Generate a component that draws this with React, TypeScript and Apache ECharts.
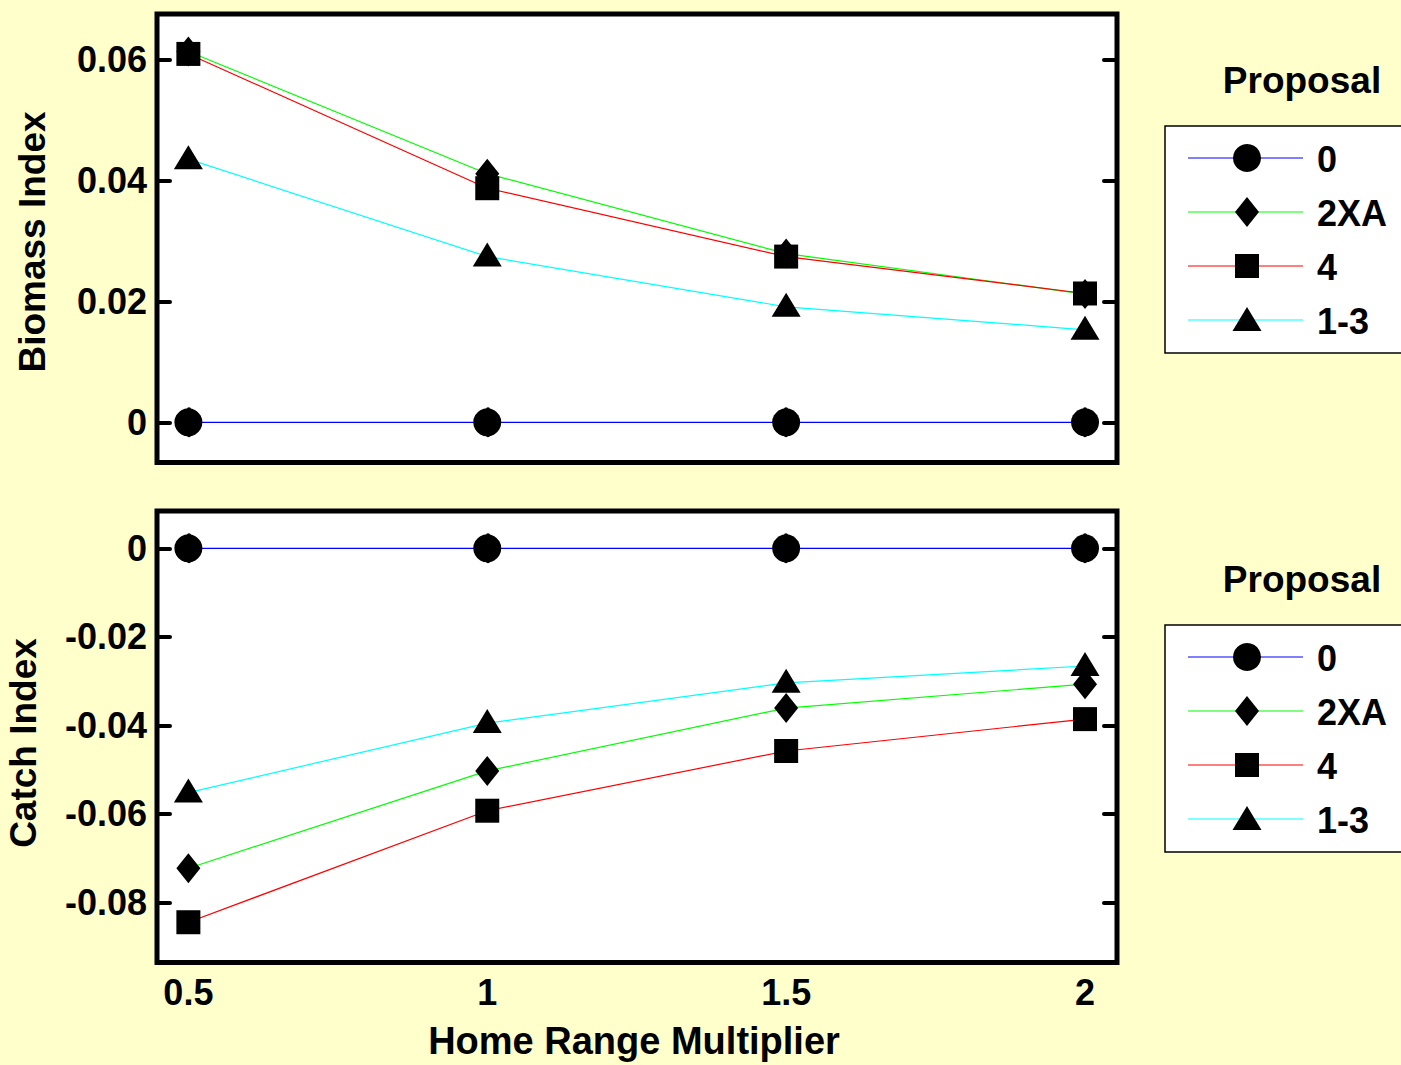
import React, { useEffect, useRef } from "react";
import * as echarts from "echarts";

const xValues = [0.5, 1, 1.5, 2];
const seriesNames = ["0", "2XA", "4", "1-3"];
const lineColors = ["#0000ff", "#00ff00", "#ff0000", "#00ffff"];

const biomass0 = [0, 0, 0, 0];
const biomass2XA = [0.0613, 0.0411, 0.0279, 0.0212];
const biomass4 = [0.0609, 0.0387, 0.0274, 0.0213];
const biomass13 = [0.0435, 0.0274, 0.0191, 0.0153];

const catch0 = [0, 0, 0, 0];
const catch2XA = [-0.0723, -0.0503, -0.0361, -0.0307];
const catch4 = [-0.0845, -0.0593, -0.0458, -0.0386];
const catch13 = [-0.0552, -0.0395, -0.0304, -0.0266];

const xTickValues = [0.5, 1, 1.5, 2];
const xTickLabels = ["0.5", "1", "1.5", "2"];
const biomassTickValues = [0, 0.02, 0.04, 0.06];
const biomassTickLabels = ["0", "0.02", "0.04", "0.06"];
const catchTickValues = [-0.08, -0.06, -0.04, -0.02, 0];
const catchTickLabels = ["-0.08", "-0.06", "-0.04", "-0.02", "0"];

const xTitle = "Home Range Multiplier";
const topTitle = "Biomass Index";
const bottomTitle = "Catch Index";
const legendTitle = "Proposal";

const FONT = "'Liberation Sans', Arial, sans-serif";

const symbols: any[] = [
  { symbol: "circle", size: 28, offset: [0, 0] },
  { symbol: "diamond", size: [24, 30], offset: [0, 0] },
  { symbol: "rect", size: 24, offset: [0, 0] },
  { symbol: "triangle", size: [29, 24], offset: [0, -2] },
];

function labelFor(values: number[], labels: string[]) {
  return (v: number) => {
    let best = 0;
    for (let i = 1; i < values.length; i++) {
      if (Math.abs(values[i] - v) < Math.abs(values[best] - v)) best = i;
    }
    return labels[best];
  };
}

const tickStyle = { show: true, inside: true, length: 13, lineStyle: { color: "#000", width: 4, cap: "round" } };

function txt(text: string, x: number, y: number, size: number, align: string, rotation = 0) {
  return {
    type: "text",
    x,
    y,
    rotation,
    style: {
      text,
      x: 0,
      y: 0,
      fill: "#000",
      font: `bold ${size}px ${FONT}`,
      align,
      verticalAlign: "middle",
      textAlign: align,
      textVerticalAlign: "middle",
    },
  };
}

function legendGraphics(dy: number) {
  const els: any[] = [];
  els.push(txt(legendTitle, 1302, 80 + dy, 37, "center"));
  els.push({
    type: "rect",
    shape: { x: 1165, y: 126 + dy, width: 260, height: 227 },
    style: { fill: "#fff", stroke: "#000", lineWidth: 1.5 },
  });
  const rows = [158, 212, 266, 320];
  seriesNames.forEach((name, i) => {
    const y = rows[i] + dy;
    const cx = 1247;
    els.push({
      type: "line",
      shape: { x1: 1188, y1: y, x2: 1303, y2: y },
      style: { stroke: lineColors[i], lineWidth: 1.2 },
    });
    if (i === 0) {
      els.push({ type: "circle", shape: { cx, cy: y, r: 14 }, style: { fill: "#000" } });
    } else if (i === 1) {
      els.push({
        type: "polygon",
        shape: { points: [[cx, y - 15], [cx + 12, y], [cx, y + 15], [cx - 12, y]] },
        style: { fill: "#000" },
      });
    } else if (i === 2) {
      els.push({ type: "rect", shape: { x: cx - 12, y: y - 12, width: 24, height: 24 }, style: { fill: "#000" } });
    } else {
      els.push({
        type: "polygon",
        shape: { points: [[cx, y - 13], [cx + 14.5, y + 11], [cx - 14.5, y + 11]] },
        style: { fill: "#000" },
      });
    }
    els.push(txt(name, 1317, y + 1, 36, "left"));
  });
  return els;
}

export default function App() {
  const ref = useRef<HTMLDivElement>(null);
  useEffect(() => {
    document.body.style.margin = "0";
    document.body.style.background = "#ffffcc";
    const chart = echarts.init(ref.current!, null, { renderer: "svg" });
    const topData = [biomass0, biomass2XA, biomass4, biomass13];
    const botData = [catch0, catch2XA, catch4, catch13];

    const series: any[] = [];
    [topData, botData].forEach((group, gi) => {
      group.forEach((vals, si) => {
        const data = xValues.map((x, k) => [x, vals[k]]);
        series.push({
          type: "line",
          name: seriesNames[si],
          xAxisIndex: gi * 2,
          yAxisIndex: gi * 2,
          data,
          symbol: "none",
          showSymbol: false,
          lineStyle: { color: lineColors[si], width: 1.2 },
          z: 2,
          silent: true,
        });
      });
      group.forEach((vals, si) => {
        const data = xValues.map((x, k) => [x, vals[k]]);
        series.push({
          type: "scatter",
          name: seriesNames[si],
          xAxisIndex: gi * 2,
          yAxisIndex: gi * 2,
          data,
          symbol: symbols[si].symbol,
          symbolSize: symbols[si].size,
          symbolOffset: symbols[si].offset,
          itemStyle: { color: "#000", opacity: 1, borderWidth: 0 },
          z: 3,
          silent: true,
        });
      });
    });

    const xAxisBase = (gridIndex: number, position: string, showLabels: boolean) => ({
      type: "value",
      gridIndex,
      position,
      min: 0.4475,
      max: 2.0535,
      axisLine: { show: false },
      splitLine: { show: false },
      axisTick: { ...tickStyle, customValues: xTickValues },
      axisLabel: {
        show: showLabels,
        customValues: xTickValues,
        formatter: labelFor(xTickValues, xTickLabels),
        color: "#000",
        fontSize: 36,
        fontWeight: "bold",
        fontFamily: FONT,
        margin: 12,
      },
    });

    const yAxisBase = (
      gridIndex: number,
      position: string,
      showLabels: boolean,
      min: number,
      max: number,
      tv: number[],
      tl: string[]
    ) => ({
      type: "value",
      gridIndex,
      position,
      min,
      max,
      axisLine: { show: false },
      splitLine: { show: false },
      axisTick: { ...tickStyle, customValues: tv },
      axisLabel: {
        show: showLabels,
        customValues: tv,
        formatter: labelFor(tv, tl),
        color: "#000",
        fontSize: 36,
        fontWeight: "bold",
        fontFamily: FONT,
        margin: 10,
      },
    });

    chart.setOption({
      animation: false,
      backgroundColor: "#ffffcc",
      grid: [
        { left: 157, top: 14, width: 960, height: 448.5, show: true, backgroundColor: "#fff", borderColor: "#000", borderWidth: 5 },
        { left: 157, top: 511, width: 960, height: 451.5, show: true, backgroundColor: "#fff", borderColor: "#000", borderWidth: 5 },
      ],
      xAxis: [
        xAxisBase(0, "bottom", false),
        xAxisBase(0, "top", false),
        xAxisBase(1, "bottom", true),
        xAxisBase(1, "top", false),
      ],
      yAxis: [
        yAxisBase(0, "left", true, -0.00664, 0.0675, biomassTickValues, biomassTickLabels),
        yAxisBase(0, "right", false, -0.00664, 0.0675, biomassTickValues, biomassTickLabels),
        yAxisBase(1, "left", true, -0.0936, 0.00843, catchTickValues, catchTickLabels),
        yAxisBase(1, "right", false, -0.0936, 0.00843, catchTickValues, catchTickLabels),
      ],
      series,
      graphic: [
        txt(xTitle, 634, 1041, 38, "center"),
        txt(topTitle, 32, 242, 37, "center", Math.PI / 2),
        txt(bottomTitle, 23, 743, 37, "center", Math.PI / 2),
        ...legendGraphics(0),
        ...legendGraphics(499),
      ],
    });
    return () => chart.dispose();
  }, []);
  return (
    <div
      ref={ref}
      style={{ position: "fixed", left: 0, top: 0, width: 1401, height: 1065, background: "#ffffcc" }}
    />
  );
}
